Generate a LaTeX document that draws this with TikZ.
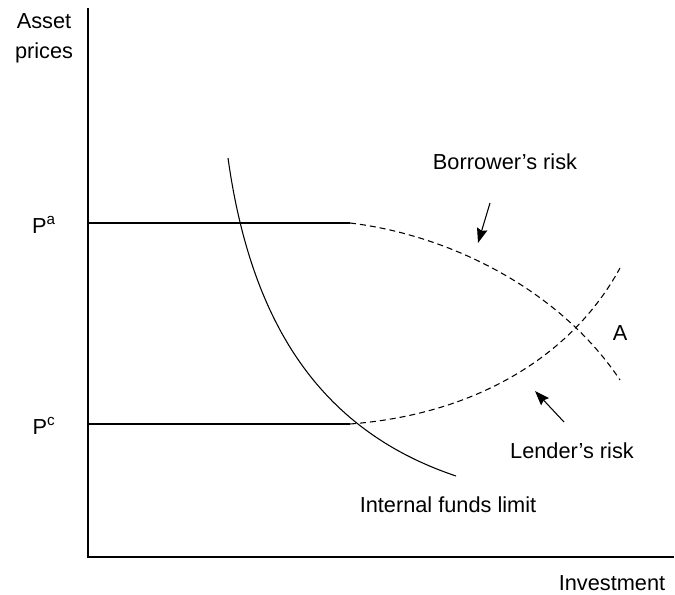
\documentclass[tikz,border=0pt]{standalone}
\usepackage{fontspec}
\setmainfont{Liberation Sans}
\usetikzlibrary{arrows.meta}

\begin{document}
\begin{tikzpicture}[x=0.75pt,y=-0.75pt,font=\fontsize{16.3}{19.5}\selectfont,line width=0.8pt]
\useasboundingbox (0,0) rectangle (675,595);
\path (88,8) coordinate (top);
\path (88,557) coordinate (O);
\path (674,557) coordinate (right);
\draw[line width=1pt] (top) -- (O) -- (right);

\path (44,38) node[align=center,font=\fontsize{16.3}{22.5}\selectfont] (Y) {Asset\\prices};
\path (612,583) node (X) {Investment};

\path (88,223) coordinate (Pa0);
\path (350,223) coordinate (Pa1);
\path (88,424) coordinate (Pc0);
\path (350,424) coordinate (Pc1);
\path (44,225) node (Pa) {P\textsuperscript{a}};
\path (44,426) node (Pc) {P\textsuperscript{c}};
\draw (Pa0) -- (Pa1);
\draw (Pc0) -- (Pc1);

\path (620,380) coordinate (B1);
\path (620,268) coordinate (L1);
\draw[dash pattern=on 4.5pt off 3pt] (Pa1) .. controls (450,235) and (560,290) .. (B1);
\draw[dash pattern=on 4.5pt off 3pt] (Pc1) .. controls (470,415) and (570,360) .. (L1);

\path (228,158) coordinate (I0);
\path (456,476) coordinate (I1);
\draw (I0) .. controls (252,330) and (325,432) .. (I1);

\path (505,162) node (BR) {Borrower's risk};
\path (572,451) node (LR) {Lender's risk};
\path (620,333) node (A) {A};
\path (448,505) node (IF) {Internal funds limit};

\path (490,203) coordinate (ba0);
\path (478,243) coordinate (ba1);
\path (564,422) coordinate (la0);
\path (535,391) coordinate (la1);
\draw[-{Stealth[length=11pt,width=8pt,inset=1.5pt]}] (ba0) -- (ba1);
\draw[-{Stealth[length=11pt,width=8pt,inset=1.5pt]}] (la0) -- (la1);
\end{tikzpicture}
\end{document}
